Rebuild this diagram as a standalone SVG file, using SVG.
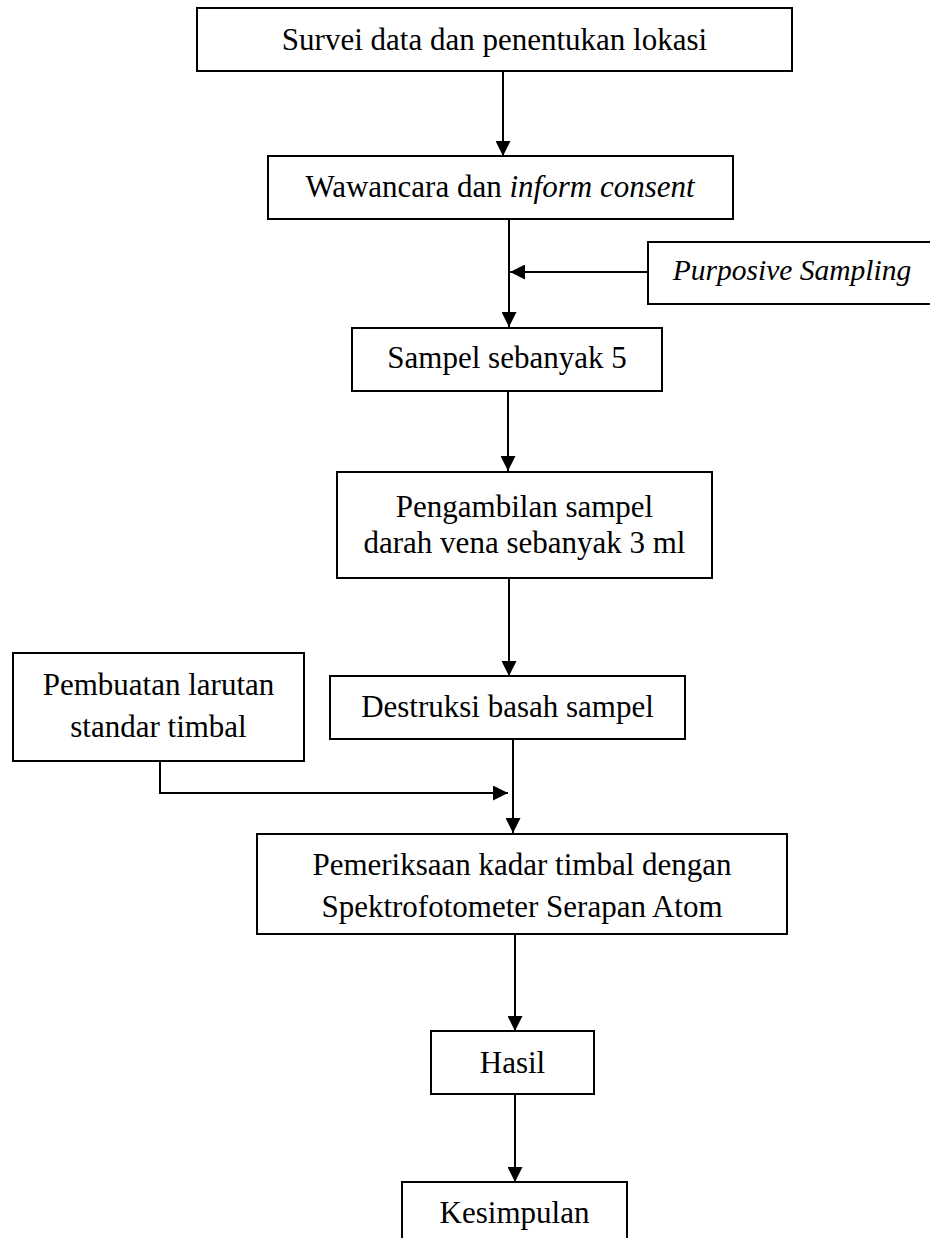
<svg xmlns="http://www.w3.org/2000/svg" width="930" height="1238" viewBox="0 0 930 1238">
<style>
.box{fill:#fff;stroke:#000;stroke-width:2}
.t{font-family:"Liberation Serif","Times New Roman",serif;font-size:31px;fill:#000;text-anchor:middle}
.it{font-style:italic}
.c{fill:none;stroke:#000;stroke-width:2}
</style>
<defs>
<marker id="ah" markerUnits="userSpaceOnUse" markerWidth="15" markerHeight="15" viewBox="0 0 15 15" refX="15" refY="7.5" orient="auto">
<path d="M0,0 L15,7.5 L0,15 z" fill="#000"/>
</marker>
</defs>
<rect width="930" height="1238" fill="#fff"/>
<g id="connectors">
<line class="c" x1="503" y1="71" x2="503" y2="156" marker-end="url(#ah)"/>
<line class="c" x1="509" y1="219" x2="509" y2="327" marker-end="url(#ah)"/>
<line class="c" x1="648" y1="272" x2="510" y2="272" marker-end="url(#ah)"/>
<line class="c" x1="508" y1="391" x2="508" y2="471" marker-end="url(#ah)"/>
<line class="c" x1="509" y1="578" x2="509" y2="676" marker-end="url(#ah)"/>
<polyline class="c" points="160,761 160,793 508,793" marker-end="url(#ah)"/>
<line class="c" x1="513" y1="739" x2="513" y2="833" marker-end="url(#ah)"/>
<line class="c" x1="515" y1="934" x2="515" y2="1031" marker-end="url(#ah)"/>
<line class="c" x1="515" y1="1094" x2="515" y2="1182" marker-end="url(#ah)"/>
</g>
<g id="n1"><rect class="box" x="197" y="8" width="595" height="63"/><text class="t" x="494.5" y="50">Survei data dan penentukan lokasi</text></g>
<g id="n2"><rect class="box" x="268" y="156" width="465" height="63"/><text class="t" x="500" y="197">Wawancara dan <tspan class="it">inform consent</tspan></text></g>
<g id="n3"><rect class="box" x="648" y="242" width="290" height="62"/><text class="t it" x="792" y="280" style="font-size:29.5px">Purposive Sampling</text></g>
<g id="n4"><rect class="box" x="352" y="328" width="310" height="63"/><text class="t" x="507" y="368">Sampel sebanyak 5</text></g>
<g id="n5"><rect class="box" x="337" y="472" width="375" height="106"/><text class="t" x="524.5" y="517">Pengambilan sampel</text><text class="t" x="524.5" y="553">darah vena sebanyak 3 ml</text></g>
<g id="n6"><rect class="box" x="13" y="653" width="291" height="108"/><text class="t" x="158.5" y="695">Pembuatan larutan</text><text class="t" x="158.5" y="737">standar timbal</text></g>
<g id="n7"><rect class="box" x="330" y="676" width="355" height="63"/><text class="t" x="507.5" y="717">Destruksi basah sampel</text></g>
<g id="n8"><rect class="box" x="257" y="834" width="530" height="100"/><text class="t" x="522" y="875">Pemeriksaan kadar timbal dengan</text><text class="t" x="522" y="917">Spektrofotometer Serapan Atom</text></g>
<g id="n9"><rect class="box" x="431" y="1031" width="163" height="63"/><text class="t" x="512.5" y="1073">Hasil</text></g>
<g id="n10"><rect class="box" x="402" y="1182" width="225" height="70"/><text class="t" x="514.5" y="1223">Kesimpulan</text></g>
</svg>
